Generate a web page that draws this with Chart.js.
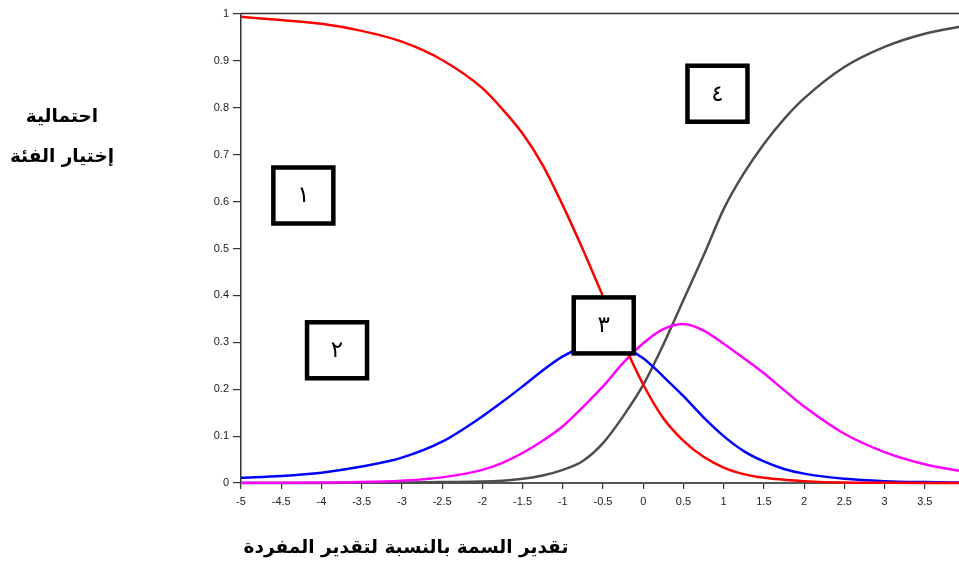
<!DOCTYPE html>
<html>
<head>
<meta charset="utf-8">
<script src="https://cdn.jsdelivr.net/npm/chart.js@4"></script>
<style>
  body { margin: 0; overflow: hidden; background: #fff; }
  #wrap { width: 975px; height: 565px; }
</style>
</head>
<body>
<div id="wrap"><canvas id="myChart" width="975" height="565"></canvas></div>
<script>
var thetas = [-5, -4.5, -4, -3.5, -3, -2.5, -2, -1.75, -1.5, -1.25, -1, -0.75, -0.5, -0.25, 0, 0.25, 0.5, 0.75, 1, 1.25, 1.5, 1.75, 2, 2.5, 3, 3.5, 4];

// probability of choosing each category
var cat1 = [0.994, 0.987, 0.979, 0.964, 0.941, 0.902, 0.842, 0.797, 0.745, 0.678, 0.592, 0.498, 0.398, 0.30, 0.21, 0.138, 0.09, 0.056, 0.033, 0.019, 0.011, 0.007, 0.004, 0.001, 0.0005, 0.0002, 0.0001];
var cat2 = [0.011, 0.015, 0.022, 0.035, 0.054, 0.088, 0.142, 0.173, 0.206, 0.24, 0.27, 0.29, 0.30, 0.29, 0.266, 0.227, 0.185, 0.14, 0.10, 0.068, 0.046, 0.03, 0.02, 0.009, 0.004, 0.002, 0.001];
var cat3 = [0.0003, 0.0006, 0.001, 0.002, 0.005, 0.012, 0.028, 0.043, 0.064, 0.09, 0.121, 0.162, 0.206, 0.256, 0.298, 0.328, 0.339, 0.325, 0.297, 0.266, 0.234, 0.198, 0.163, 0.105, 0.066, 0.04, 0.024];
var cat4 = [0, 0, 0.0002, 0.0006, 0.001, 0.002, 0.003, 0.005, 0.009, 0.016, 0.028, 0.047, 0.085, 0.142, 0.209, 0.295, 0.39, 0.485, 0.584, 0.66, 0.723, 0.776, 0.82, 0.887, 0.93, 0.958, 0.975];

// numbered boxes marking each category curve (data coordinates)
var boxLabels = ['١', '٢', '٣', '٤'];
var boxTheta = [-4.225, -3.806, -0.491, 0.923];
var boxProb = [0.613, 0.283, 0.336, 0.83];

var yTitle = ['احتمالية', 'إختيار الفئة'];
var xTitle = 'تقدير السمة بالنسبة لتقدير المفردة';

function pts(vals) {
    return thetas.map(function (t, i) { return { x: t, y: vals[i] }; });
}

function line(vals, color) {
    return {
        data: pts(vals),
        borderColor: color,
        borderWidth: 2.5,
        pointRadius: 0,
        cubicInterpolationMode: 'monotone',
        fill: false,
        clip: false
    };
}

var extras = {
    id: 'extras',
    afterDraw: function (chart) {
        var c = chart.ctx, a = chart.chartArea;
        var xs = chart.scales.x, ys = chart.scales.y;
        c.save();
        // top frame line
        c.strokeStyle = '#333';
        c.lineWidth = 1.5;
        c.beginPath();
        c.moveTo(a.left, a.top - 0.5);
        c.lineTo(a.right, a.top - 0.5);
        c.stroke();

        // boxes
        c.lineWidth = 4.5;
        c.strokeStyle = '#000';
        c.font = '23px "DejaVu Sans", sans-serif';
        c.textAlign = 'center';
        c.textBaseline = 'middle';
        for (var i = 0; i < boxLabels.length; i++) {
            var cx = xs.getPixelForValue(boxTheta[i]);
            var cy = ys.getPixelForValue(boxProb[i]);
            c.fillStyle = '#fff';
            c.fillRect(cx - 30, cy - 28, 60, 56);
            c.strokeRect(cx - 30, cy - 28, 60, 56);
            c.fillStyle = '#000';
            c.fillText(boxLabels[i], cx, cy + 1);
        }

        // axis titles
        c.font = 'bold 18.5px "DejaVu Sans", sans-serif';
        c.direction = 'rtl';
        c.fillText(yTitle[0], 62, 117);
        c.fillText(yTitle[1], 62, 157);
        c.fillText(xTitle, 406, 548);
        c.restore();
    }
};

var ctx = document.getElementById('myChart').getContext('2d');
var myChart = new Chart(ctx, {
    type: 'line',
    data: {
        datasets: [
            line(cat1, '#ff0000'),
            line(cat2, '#0000ff'),
            line(cat3, '#ff00ff'),
            line(cat4, '#4d4d4d')
        ]
    },
    options: {
        responsive: false,
        animation: false,
        layout: { padding: { left: 0, top: 14, right: 10, bottom: 0 } },
        plugins: {
            legend: { display: false },
            tooltip: { enabled: false }
        },
        scales: {
            x: {
                type: 'linear',
                min: -5,
                max: 4,
                afterFit: function (s) { s.height = 82; },
                afterBuildTicks: function (s) {
                    var t = [];
                    for (var v = -5; v <= 3.5; v += 0.5) t.push({ value: v });
                    s.ticks = t;
                },
                grid: { drawOnChartArea: false, drawTicks: true, tickLength: 6, color: '#333', lineWidth: 1.2 },
                border: { display: true, color: '#555', width: 2 },
                ticks: {
                    color: '#222',
                    padding: 6,
                    maxRotation: 0,
                    autoSkip: false,
                    font: { family: 'Liberation Sans', size: 11 },
                    callback: function (v) { return String(v); }
                }
            },
            y: {
                min: 0,
                max: 1,
                afterFit: function (s) { s.width = 241; },
                grid: { drawOnChartArea: false, drawTicks: true, tickLength: 8, color: '#333', lineWidth: 1.2 },
                border: { display: true, color: '#333', width: 1.5 },
                ticks: {
                    stepSize: 0.1,
                    color: '#222',
                    padding: 4,
                    font: { family: 'Liberation Sans', size: 11 },
                    callback: function (v) { return String(Math.round(v * 10) / 10); }
                }
            }
        }
    },
    plugins: [extras]
});
</script>
</body>
</html>
